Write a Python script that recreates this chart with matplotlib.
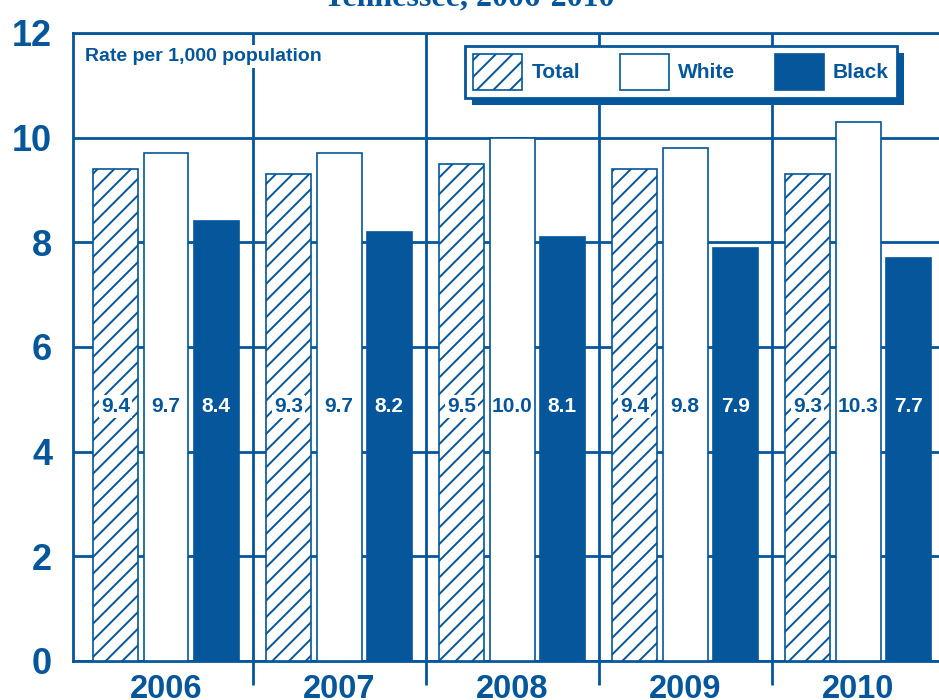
import numpy as np
import matplotlib
matplotlib.use('Agg')
import matplotlib.pyplot as plt
from matplotlib.patches import Patch, Rectangle

BLUE = '#05569a'
plt.rcParams['font.family'] = ['Liberation Sans', 'DejaVu Sans']
plt.rcParams['font.weight'] = 'bold'
plt.rcParams['hatch.linewidth'] = 1.4

years = ['2006', '2007', '2008', '2009', '2010']
total = [9.4, 9.3, 9.5, 9.4, 9.3]
white = [9.7, 9.7, 10.0, 9.8, 10.3]
black = [8.4, 8.2, 8.1, 7.9, 7.7]
yticks = [0, 2, 4, 6, 8, 10, 12]

fig = plt.figure(figsize=(9.39, 7.0), dpi=100)
ax = fig.add_axes([73 / 939, 39 / 700, 866 / 939, 628 / 700])

x = np.arange(len(years))
off = 0.29
w = 0.26

ax.bar(x - off, total, w, facecolor='white', edgecolor=BLUE, hatch='//', lw=1.2, zorder=3)
ax.bar(x, white, w, facecolor='white', edgecolor=BLUE, lw=1.2, zorder=3)
ax.bar(x + off, black, w, facecolor=BLUE, edgecolor=BLUE, lw=1.2, zorder=3)

# value labels
lab_y = 4.87
for i in range(len(years)):
    ax.text(x[i] - off, lab_y, f'{total[i]:.1f}', ha='center', va='center', fontsize=15,
            color=BLUE, zorder=5,
            bbox=dict(boxstyle='square,pad=0.1', fc='white', ec='none'))
    ax.text(x[i], lab_y, f'{white[i]:.1f}', ha='center', va='center', fontsize=15,
            color=BLUE, zorder=5)
    ax.text(x[i] + off, lab_y, f'{black[i]:.1f}', ha='center', va='center', fontsize=15,
            color='white', zorder=5)

ax.set_xlim(-0.5376, 4.468)
ax.set_ylim(0, 12)
ax.set_yticks(yticks)
ax.set_yticklabels([str(t) for t in yticks], fontsize=26, color=BLUE)
ax.set_xticks(x)
ax.set_xticklabels(years, fontsize=23.5, color=BLUE)
ax.tick_params(axis='both', length=0)
ax.tick_params(axis='y', pad=15)
ax.tick_params(axis='x', pad=9)

ax.set_axisbelow(True)
ax.yaxis.grid(True, color=BLUE, lw=2)
for s in ['left', 'bottom', 'top']:
    ax.spines[s].set_color(BLUE)
    ax.spines[s].set_linewidth(2)
ax.spines['right'].set_visible(False)

# group dividers, running a little below the axis
ax.vlines(x[:-1] + 0.5, -0.46, 12, color=BLUE, lw=2, clip_on=False, zorder=1)

ax.text(0.0139, 0.963, 'Rate per 1,000 population', transform=ax.transAxes,
        ha='left', va='center', fontsize=14, color=BLUE, zorder=5,
        bbox=dict(boxstyle='square,pad=0.15', fc='white', ec='none'))

handles = [Patch(facecolor='white', edgecolor=BLUE, hatch='//', lw=1.2, label='Total'),
           Patch(facecolor='white', edgecolor=BLUE, lw=1.2, label='White'),
           Patch(facecolor=BLUE, edgecolor=BLUE, lw=1.2, label='Black')]
leg = ax.legend(handles=handles, ncol=3, loc='center',
                bbox_to_anchor=(681 / 939, 1 - 72 / 700), bbox_transform=fig.transFigure,
                borderaxespad=0, fancybox=False, fontsize=15, labelcolor=BLUE,
                handlelength=2.35, handleheight=2.29, handletextpad=0.45,
                columnspacing=1.9, borderpad=0.4, framealpha=1)
leg.get_frame().set_edgecolor(BLUE)
leg.get_frame().set_linewidth(2)
leg.set_zorder(10)

# solid offset shadow behind the legend box
fig.canvas.draw()
bb = leg.get_window_extent(fig.canvas.get_renderer())
shadow = Rectangle((bb.x0 + 7, bb.y0 - 7), bb.width, bb.height, transform=None,
                   facecolor=BLUE, edgecolor='none', zorder=9)
ax.add_artist(shadow)

fig.text(0.5, 1 - 5 / 700, 'Tennessee, 2006-2010', ha='center', va='baseline',
         fontsize=23, color=BLUE, family='Liberation Serif', weight='bold')

fig.savefig('out.png', dpi=100)
